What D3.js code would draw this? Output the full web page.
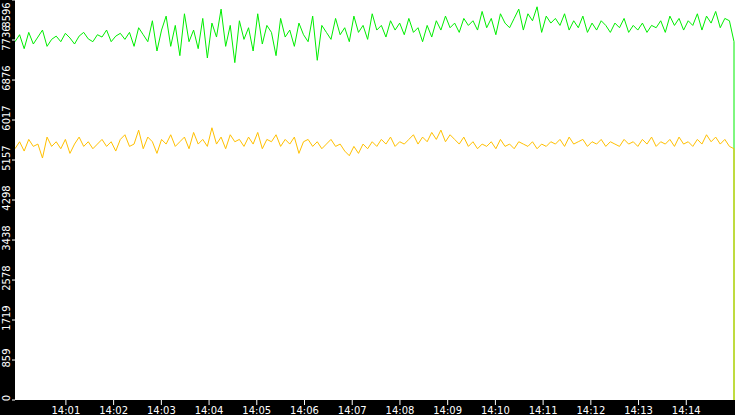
<!DOCTYPE html>
<html><head><meta charset="utf-8">
<script src="https://cdn.jsdelivr.net/npm/d3@7"></script>
<style>body{margin:0;background:#fff}svg{display:block}</style>
</head><body><svg id="c" width="735" height="415"></svg>
<script>
const yTicks=[0,859,1719,2578,3438,4298,5157,6017,6876,7736,8596];
const xTickLabels=["14:01","14:02","14:03","14:04","14:05","14:06","14:07","14:08","14:09","14:10","14:11","14:12","14:13","14:14"];
const green=[7700,7850,7550,7900,7650,7800,7950,7600,7750,7820,7700,7880,7780,7650,7820,7900,7760,7700,7850,7800,
7950,7700,7820,7880,7750,7900,7600,8000,7850,7700,8150,7500,7950,8250,7600,8050,7400,8300,7700,7950,
7550,8200,7350,8100,7800,8400,7600,8050,7250,8150,7750,8000,7500,8300,7650,8050,7900,7400,8200,7800,
7950,7600,8100,7850,7700,8250,7300,8050,7900,7750,8200,7850,8000,7700,8250,7900,8050,7750,8300,7950,
8050,7800,8150,7950,8100,7850,8200,7900,8000,7700,8050,7800,8150,7950,8250,8000,8100,7900,8200,8050,
8150,7950,8350,8000,8200,7850,8300,8100,8000,8200,8400,7950,8300,8150,8450,7900,8250,8100,8200,8050,
8300,7950,8150,8000,8250,7900,8100,7950,8150,8050,7900,8100,8000,8200,7900,8050,7950,8100,7900,8050,
8000,8150,7900,8250,8050,8200,7950,8150,8050,8300,7950,8250,8100,8350,8000,8200,8150,7700,0];
const yellow=[5400,5550,5350,5600,5450,5500,5200,5650,5450,5550,5400,5600,5300,5500,5650,5450,5550,5400,5500,5600,
5450,5550,5350,5600,5700,5450,5500,5800,5400,5650,5550,5300,5600,5500,5700,5450,5550,5650,5400,5750,
5500,5600,5450,5850,5500,5650,5400,5700,5550,5600,5450,5650,5500,5750,5400,5600,5550,5700,5450,5600,
5500,5650,5300,5550,5600,5450,5550,5400,5500,5600,5450,5500,5350,5250,5450,5300,5500,5400,5550,5450,
5600,5500,5650,5450,5550,5500,5600,5700,5500,5650,5550,5750,5600,5800,5550,5700,5600,5500,5650,5450,
5550,5400,5500,5450,5550,5400,5600,5450,5500,5400,5550,5500,5450,5550,5400,5500,5450,5550,5500,5600,
5450,5650,5500,5550,5600,5450,5550,5500,5600,5450,5550,5500,5450,5600,5500,5550,5450,5600,5500,5650,
5450,5550,5500,5600,5450,5650,5500,5550,5450,5600,5500,5700,5550,5650,5500,5600,5450,5400,0];
const svg=d3.select("#c");
const W=735,H=415,L=15,B=400;
svg.append("rect").attr("width",W).attr("height",H).attr("fill","#fff");
const t0=new Date(2020,0,1,13,59,56), t1=new Date(2020,0,1,14,15,0);
const x=d3.scaleTime().domain([t0,t1]).range([L,W-1]);
const y=d3.scaleLinear().domain([0,8596]).range([B,0]);
// last sample (the drop to zero) shares the timestamp of the previous one
const tAt=(i,n)=>{const k=Math.min(i,n-2);return new Date(+t0+(t1-t0)*k/(n-2));};
const mk=d=>d3.line().x((v,i)=>x(tAt(i,d.length))).y(v=>y(v))(d);
svg.append("path").datum(green).attr("d",mk).attr("fill","none").attr("stroke","#00ee00").attr("stroke-width",1);
svg.append("path").datum(yellow).attr("d",mk).attr("fill","none").attr("stroke","#ffc000").attr("stroke-width",1);
svg.append("rect").attr("x",0).attr("y",0).attr("width",L).attr("height",H).attr("fill","#000");
svg.append("rect").attr("x",0).attr("y",B).attr("width",W).attr("height",H-B).attr("fill","#000");
const ya=svg.append("g");
yTicks.forEach(v=>{
  ya.append("line").attr("x1",12).attr("x2",L).attr("y1",y(v)).attr("y2",y(v)).attr("stroke","#fff");
  const cy=Math.max(y(v)-2,15);
  ya.append("text").attr("transform",`translate(10,${cy}) rotate(-90)`).attr("text-anchor","middle")
   .attr("fill","#fff").attr("font-family","DejaVu Sans").attr("font-size",10).text(v);
});
const xa=svg.append("g");
xTickLabels.forEach(s=>{
  const [h,m]=s.split(":").map(Number);
  const px=x(new Date(2020,0,1,h,m,0));
  xa.append("line").attr("x1",px).attr("x2",px).attr("y1",B).attr("y2",B+5).attr("stroke","#fff");
  xa.append("text").attr("x",px).attr("y",B+14).attr("text-anchor","middle").attr("fill","#fff")
   .attr("font-family","DejaVu Sans").attr("font-size",10).text(s);
});
</script></body></html>
